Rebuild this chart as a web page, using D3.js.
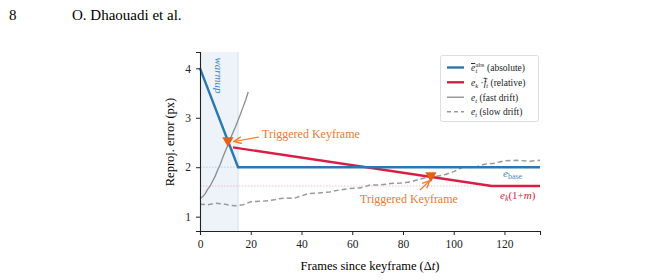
<!DOCTYPE html>
<html><head><meta charset="utf-8">
<script src="https://cdn.jsdelivr.net/npm/d3@7"></script>
<style>
body{margin:0;background:#fff;}
text{font-family:"Liberation Serif","DejaVu Serif",serif;}
</style></head>
<body>
<svg id="c" width="647" height="280"></svg>
<script>
// Data
const xTicks = [0, 20, 40, 60, 80, 100, 120];
const yTicks = [1, 2, 3, 4];
const absX = [0, 15, 134];
const absY = [4.0, 2.0, 2.0];
const relX = [13, 115, 134];
const relY = [2.40, 1.62, 1.62];
const fastX = [0, 1, 2, 3, 4, 5, 6, 7, 8, 9, 10, 11, 12, 13, 14, 15, 16, 17, 18, 19];
const fastY = [1.36, 1.40, 1.46, 1.55, 1.62, 1.72, 1.82, 1.95, 2.06, 2.20, 2.33, 2.45, 2.58, 2.70, 2.82, 2.95, 3.08, 3.22, 3.36, 3.52];
const slowX = [0, 3, 6, 9, 12, 14, 17, 20, 24, 28, 31, 34, 37, 40, 43, 47, 51, 55, 59, 63, 67, 71, 75, 79, 83, 86, 89, 92, 96, 100, 104, 108, 112, 116, 120, 125, 130, 134];
const slowY = [1.25, 1.24, 1.27, 1.26, 1.23, 1.22, 1.24, 1.30, 1.31, 1.33, 1.36, 1.38, 1.37, 1.42, 1.47, 1.48, 1.50, 1.54, 1.57, 1.58, 1.64, 1.64, 1.67, 1.68, 1.70, 1.75, 1.79, 1.81, 1.84, 1.91, 2.01, 1.99, 2.06, 2.08, 2.13, 2.14, 2.12, 2.14];
const eBase = 2.0;
const eK1m = 1.62;
const warmupEnd = 15;
const triggers = [[11, 2.54], [91, 1.83]];
const legendLabels = ["(absolute)", "(relative)", "(fast drift)", "(slow drift)"];

const svg = d3.select("#c");
const x = d3.scaleLinear().domain([0, 134]).range([200, 540]);
const y = d3.scaleLinear().domain([0.71, 4.33]).range([231, 52]);

// header
svg.append("text").attr("x", 9).attr("y", 20).attr("font-size", 15).text("8");
svg.append("text").attr("x", 72).attr("y", 20).attr("font-size", 15).text("O. Dhaouadi et al.");

// warmup shading
svg.append("rect").attr("x", x(0)).attr("y", y(4.33)).attr("width", x(warmupEnd) - x(0))
  .attr("height", y(0.71) - y(4.33)).attr("fill", "#eaf1f8").attr("opacity", 0.85);
svg.append("line").attr("x1", x(warmupEnd)).attr("x2", x(warmupEnd)).attr("y1", y(4.33)).attr("y2", y(0.71))
  .attr("stroke", "#c9dbec").attr("stroke-width", 0.8);
svg.append("text").attr("transform", `translate(${x(5.9)},${y(4.22)}) rotate(90)`)
  .attr("font-size", 11).attr("font-style", "italic").attr("fill", "#3d85c0").text("warmup");

// reference hlines
svg.append("line").attr("x1", x(0)).attr("x2", x(134)).attr("y1", y(eBase)).attr("y2", y(eBase))
  .attr("stroke", "#9ec3e0").attr("stroke-width", 0.7).attr("stroke-dasharray", "1.5,1.5");
svg.append("line").attr("x1", x(0)).attr("x2", x(134)).attr("y1", y(eK1m)).attr("y2", y(eK1m))
  .attr("stroke", "#f2a5b2").attr("stroke-width", 0.7).attr("stroke-dasharray", "1.5,1.5");

const line = d3.line().x(d => x(d[0])).y(d => y(d[1]));
const zip = (a, b) => a.map((v, i) => [v, b[i]]);

svg.append("path").attr("d", line(zip(slowX, slowY))).attr("fill", "none")
  .attr("stroke", "#9a9a9a").attr("stroke-width", 1.5).attr("stroke-dasharray", "5,3");
svg.append("path").attr("d", line(zip(fastX, fastY))).attr("fill", "none")
  .attr("stroke", "#8c8c8c").attr("stroke-width", 1.3);
svg.append("path").attr("d", line(zip(relX, relY))).attr("fill", "none")
  .attr("stroke", "#d81e45").attr("stroke-width", 2.4);
svg.append("path").attr("d", line(zip(absX, absY))).attr("fill", "none")
  .attr("stroke", "#2a77b4").attr("stroke-width", 2.4);

// triggers
const tri = d3.symbol().type(d3.symbolTriangle).size(55);
triggers.forEach(t => {
  svg.append("path").attr("d", tri()).attr("transform", `translate(${x(t[0])},${y(t[1])}) rotate(180)`)
    .attr("fill", "#e8600f");
});

// arrows
svg.append("defs").append("marker").attr("id", "ah").attr("viewBox", "0 0 10 10").attr("refX", 9).attr("refY", 5)
  .attr("markerWidth", 7).attr("markerHeight", 7).attr("orient", "auto-start-reverse")
  .append("path").attr("d", "M0,1 L9,5 L0,9").attr("fill", "none").attr("stroke", "#ee7a30").attr("stroke-width", 1.6);
svg.append("line").attr("x1", 259).attr("y1", 137).attr("x2", x(triggers[0][0]) + 6).attr("y2", y(triggers[0][1]) + 1)
  .attr("stroke", "#ee7a30").attr("stroke-width", 1.2).attr("marker-end", "url(#ah)");
svg.append("text").attr("x", 262).attr("y", 138).attr("font-size", 12).attr("fill", "#ee7a30").text("Triggered Keyframe");
svg.append("line").attr("x1", 420).attr("y1", 190).attr("x2", x(triggers[1][0]) - 1).attr("y2", y(triggers[1][1]) + 5)
  .attr("stroke", "#ee7a30").attr("stroke-width", 1.2).attr("marker-end", "url(#ah)");
svg.append("text").attr("x", 360).attr("y", 203).attr("font-size", 12).attr("fill", "#ee7a30").text("Triggered Keyframe");

// side labels
const eb = svg.append("text").attr("x", 503).attr("y", 177).attr("font-size", 11).attr("fill", "#4a8cc4");
eb.append("tspan").attr("font-style", "italic").text("e");
eb.append("tspan").attr("font-size", 8).attr("dy", 2).text("base");
const ek = svg.append("text").attr("x", 500).attr("y", 199).attr("font-size", 11).attr("fill", "#d81e45");
ek.append("tspan").attr("font-style", "italic").text("e");
ek.append("tspan").attr("font-size", 8).attr("font-style", "italic").attr("dy", 2).text("k");
ek.append("tspan").attr("dy", -2).text("(1+");
ek.append("tspan").attr("font-style", "italic").text("m");
ek.append("tspan").text(")");

// axes
const xa = svg.append("g").attr("transform", `translate(0,${y(0.71)})`)
  .call(d3.axisBottom(x).tickValues(xTicks).tickFormat(d3.format("d")).tickSize(4).tickPadding(5));
const ya = svg.append("g").attr("transform", `translate(${x(0)},0)`)
  .call(d3.axisLeft(y).tickValues(yTicks).tickFormat(d3.format("d")).tickSize(4).tickPadding(5));
[xa, ya].forEach(g => {
  g.selectAll("text").attr("font-size", 11.5).attr("font-family", "Liberation Serif, serif").attr("fill", "#222");
  g.select(".domain").attr("stroke", "#222").attr("stroke-width", 1.1);
  g.selectAll(".tick line").attr("stroke", "#222");
});

svg.append("text").attr("x", 370).attr("y", 270).attr("text-anchor", "middle").attr("font-size", 12.5)
  .html('Frames since keyframe (Δ<tspan font-style="italic">t</tspan>)');
svg.append("text").attr("transform", `translate(174,142) rotate(-90)`).attr("text-anchor", "middle")
  .attr("font-size", 12.5).text("Reproj. error (px)");

// legend
const lg = svg.append("g");
lg.append("rect").attr("x", 440.5).attr("y", 55.5).attr("width", 98).attr("height", 66).attr("rx", 2)
  .attr("fill", "#fff").attr("stroke", "#d4d4d4").attr("stroke-width", 0.8);
const lstyles = [
  {c: "#2a77b4", w: 2.4, d: null},
  {c: "#d81e45", w: 2.4, d: null},
  {c: "#8c8c8c", w: 1.3, d: null},
  {c: "#9a9a9a", w: 1.5, d: "4,3"}
];
const rowsY = [67.5, 82.3, 97.2, 111.8];
lstyles.forEach((s, i) => {
  lg.append("line").attr("x1", 447).attr("x2", 464).attr("y1", rowsY[i]).attr("y2", rowsY[i])
    .attr("stroke", s.c).attr("stroke-width", s.w).attr("stroke-dasharray", s.d);
});
function sym(i) {
  return lg.append("text").attr("x", 471).attr("y", rowsY[i] + 3.5).attr("font-size", 9.5).attr("fill", "#222");
}
let t0 = sym(0);
t0.append("tspan").attr("font-style", "italic").attr("text-decoration", "overline").text("e");
t0.append("tspan").attr("font-size", 6.5).attr("x", 475.5).attr("y", rowsY[0] - 0.5).text("abs");
t0.append("tspan").attr("font-size", 6.5).attr("font-style", "italic").attr("x", 475.5).attr("y", rowsY[0] + 5.5).text("t");
t0.append("tspan").attr("x", 487).attr("y", rowsY[0] + 3.5).text(legendLabels[0]);
let t1 = sym(1);
t1.append("tspan").attr("font-style", "italic").text("e");
t1.append("tspan").attr("font-size", 6.5).attr("font-style", "italic").attr("dy", 2).text("k");
t1.append("tspan").attr("dy", -2).text(" ·");
t1.append("tspan").attr("font-style", "italic").attr("text-decoration", "overline").text("f");
t1.append("tspan").attr("font-size", 6.5).attr("font-style", "italic").attr("dy", 2).text("t");
t1.append("tspan").attr("dy", -2).text(" " + legendLabels[1]);
[2, 3].forEach(i => {
  const t = sym(i);
  t.append("tspan").attr("font-style", "italic").text("e");
  t.append("tspan").attr("font-size", 6.5).attr("font-style", "italic").attr("dy", 2).text("t");
  t.append("tspan").attr("dy", -2).text(" " + legendLabels[i]);
});
</script>
</body></html>
